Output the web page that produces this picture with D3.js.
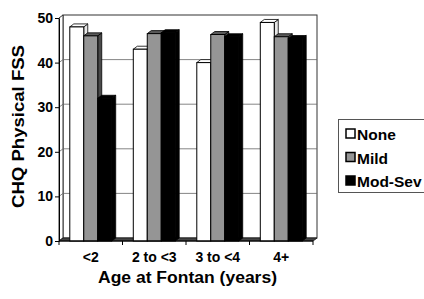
<!doctype html>
<html>
<head>
  <script src="https://d3js.org/d3.v7.min.js"></script>
  <style>
    body { margin: 0; background: #fff; }
    text { font-family: "Liberation Sans", Arial, sans-serif; font-weight: bold; fill: #000; }
  </style>
</head>
<body>
  <script>
    // data
    var categories = ["<2", "2 to <3", "3 to <4", "4+"];
    var seriesNames = ["None", "Mild", "Mod-Sev"];
    var noneValues = [48, 43, 40, 49];
    var mildValues = [46, 46.5, 46.3, 45.8];
    var modSevValues = [32, 46.7, 45.8, 45.4];
    var yTicks = [0, 10, 20, 30, 40, 50];

    var allValues = [noneValues, mildValues, modSevValues];

    // colours for front / top / side of each series
    var faces = [
      { front: "#ffffff", top: "#ffffff", side: "#e8e8e8" },
      { front: "#959595", top: "#5a5a5a", side: "#4a4a4a" },
      { front: "#000000", top: "#000000", side: "#000000" }
    ];

    var svgW = 424, svgH = 299;
    var dx = 4, dy = 3; // 3d depth offset

    var plotL = 59, plotR = 313, plotT = 18, plotB = 241;

    var y = d3.scaleLinear().domain([0, 50]).range([plotB, plotT]);
    var x0 = d3.scaleBand().domain(categories).range([plotL, plotR])
               .paddingInner(0.34).paddingOuter(0.17);
    var x1 = d3.scaleBand().domain(seriesNames).range([0, x0.bandwidth()]);

    var svg = d3.select("body").append("svg")
                .attr("width", svgW).attr("height", svgH);

    // back wall
    svg.append("rect")
       .attr("x", plotL + dx).attr("y", y(50) - dy)
       .attr("width", plotR - plotL).attr("height", plotB - y(50))
       .attr("fill", "#fff").attr("stroke", "#333").attr("stroke-width", 1);

    // left wall
    svg.append("path")
       .attr("d", "M" + plotL + "," + y(50) + "L" + (plotL + dx) + "," + (y(50) - dy) +
                  "L" + (plotL + dx) + "," + (plotB - dy) + "L" + plotL + "," + plotB + "Z")
       .attr("fill", "#fff").attr("stroke", "#333");

    // gridlines on back wall
    yTicks.filter(function(d) { return d > 0 && d < 50; }).forEach(function(t) {
      svg.append("line")
         .attr("x1", plotL + dx).attr("x2", plotR + dx)
         .attr("y1", y(t) - dy).attr("y2", y(t) - dy)
         .attr("stroke", "#666").attr("stroke-width", 0.8);
      svg.append("line")
         .attr("x1", plotL).attr("x2", plotL + dx)
         .attr("y1", y(t)).attr("y2", y(t) - dy)
         .attr("stroke", "#666").attr("stroke-width", 0.8);
    });

    // floor
    svg.append("path")
       .attr("d", "M" + plotL + "," + plotB + "L" + (plotL + dx) + "," + (plotB - dy) +
                  "L" + (plotR + dx) + "," + (plotB - dy) + "L" + plotR + "," + plotB + "Z")
       .attr("fill", "#444").attr("stroke", "#222");

    // bars
    var bw = x1.bandwidth();
    categories.forEach(function(c, ci) {
      seriesNames.forEach(function(s, si) {
        var v = allValues[si][ci];
        var bx = x0(c) + x1(s);
        var by = y(v);
        var g = svg.append("g");
        // side face
        g.append("path")
         .attr("d", "M" + (bx + bw) + "," + by + "L" + (bx + bw + dx) + "," + (by - dy) +
                    "L" + (bx + bw + dx) + "," + (plotB - dy) + "L" + (bx + bw) + "," + plotB + "Z")
         .attr("fill", faces[si].side).attr("stroke", "#000").attr("stroke-width", 0.8);
        // top face
        g.append("path")
         .attr("d", "M" + bx + "," + by + "L" + (bx + dx) + "," + (by - dy) +
                    "L" + (bx + bw + dx) + "," + (by - dy) + "L" + (bx + bw) + "," + by + "Z")
         .attr("fill", faces[si].top).attr("stroke", "#000").attr("stroke-width", 0.8);
        // front face
        g.append("rect")
         .attr("x", bx).attr("y", by)
         .attr("width", bw).attr("height", plotB - by)
         .attr("fill", faces[si].front).attr("stroke", "#000").attr("stroke-width", 1);
      });
    });

    // y axis
    var yAxis = d3.axisLeft(y).tickValues(yTicks).tickSize(4).tickSizeOuter(0).tickPadding(2);
    var ya = svg.append("g").attr("transform", "translate(" + plotL + ",0)").call(yAxis);
    ya.select(".domain").attr("stroke", "#000");
    ya.selectAll("text").style("font-size", "14px").style("font-family", null).attr("fill", "#000");

    // x axis line and ticks at band boundaries
    svg.append("line")
       .attr("x1", plotL).attr("x2", plotR)
       .attr("y1", plotB).attr("y2", plotB)
       .attr("stroke", "#000");
    var step = x0.step();
    d3.range(5).forEach(function(i) {
      svg.append("line")
         .attr("x1", plotL + i * step).attr("x2", plotL + i * step)
         .attr("y1", plotB).attr("y2", plotB + 4)
         .attr("stroke", "#000");
    });
    svg.selectAll(".xlab").data(categories).enter().append("text")
       .attr("class", "xlab")
       .attr("x", function(d) { return x0(d) + x0.bandwidth() / 2; })
       .attr("y", 262)
       .attr("text-anchor", "middle")
       .style("font-size", "14px")
       .text(function(d) { return d; });

    // axis titles
    svg.append("text")
       .attr("x", 187.5).attr("y", 283)
       .attr("text-anchor", "middle")
       .attr("textLength", 179).attr("lengthAdjust", "spacingAndGlyphs")
       .style("font-size", "16px")
       .text("Age at Fontan (years)");
    svg.append("text")
       .attr("transform", "translate(24,126.5) rotate(-90)")
       .attr("text-anchor", "middle")
       .attr("textLength", 163).attr("lengthAdjust", "spacingAndGlyphs")
       .style("font-size", "16px")
       .text("CHQ Physical FSS");

    // legend
    var legend = svg.append("g");
    legend.append("rect")
       .attr("x", 338.5).attr("y", 119.5)
       .attr("width", 100).attr("height", 73)
       .attr("fill", "#fff").attr("stroke", "#555");
    seriesNames.forEach(function(s, i) {
      var ly = 140 + i * 23.5;
      legend.append("rect")
         .attr("x", 346).attr("y", ly - 11)
         .attr("width", 9).attr("height", 9)
         .attr("fill", faces[i].front).attr("stroke", "#000").attr("stroke-width", 1.5);
      legend.append("text")
         .attr("x", 357).attr("y", ly)
         .style("font-size", "15.5px")
         .text(s);
    });
  </script>
</body>
</html>
